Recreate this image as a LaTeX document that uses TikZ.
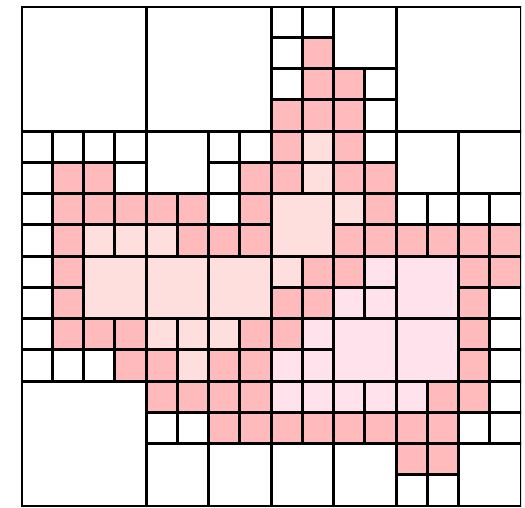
\documentclass[tikz,border=0pt]{standalone}
\definecolor{cw}{RGB}{255,255,255}
\definecolor{cp}{RGB}{255,187,187}
\definecolor{cl}{RGB}{255,222,222}
\definecolor{cv}{RGB}{255,226,236}
\tikzset{cellline/.style={draw=black, line width=3pt}}
\begin{document}
\begin{tikzpicture}
\useasboundingbox (0pt,0pt) rectangle (525pt,-507pt);
\fill[white] (0pt,0pt) rectangle (525pt,-507pt);
\begin{scope}[shift={(21pt,-6pt)}, x=31.25pt, y=-31.25pt]
\def\cells{0/0/4/cw, 4/0/4/cw, 12/0/4/cw, 0/12/4/cw,
8/0/1/cw, 9/0/1/cw, 8/1/1/cw, 9/1/1/cp, 10/0/2/cw, 8/2/1/cw, 9/2/1/cp, 8/3/1/cp, 9/3/1/cp, 10/2/1/cp, 11/2/1/cw, 10/3/1/cp, 11/3/1/cw,
0/4/1/cw, 1/4/1/cw, 2/4/1/cw, 3/4/1/cw, 0/5/1/cw, 1/5/1/cp, 2/5/1/cp, 3/5/1/cw, 0/6/1/cw, 1/6/1/cp, 2/6/1/cp, 3/6/1/cp, 0/7/1/cw, 1/7/1/cp, 2/7/1/cl, 3/7/1/cl,
4/4/2/cw, 6/4/1/cw, 7/4/1/cw, 6/5/1/cw, 7/5/1/cp, 4/6/1/cp, 5/6/1/cp, 4/7/1/cl, 5/7/1/cp, 6/6/1/cw, 7/6/1/cp, 6/7/1/cp, 7/7/1/cp,
8/4/1/cp, 9/4/1/cl, 8/5/1/cp, 9/5/1/cl, 10/4/1/cp, 11/4/1/cw, 10/5/1/cp, 11/5/1/cp, 8/6/2/cl, 10/6/1/cl, 11/6/1/cp, 10/7/1/cp, 11/7/1/cp,
12/4/2/cw, 14/4/2/cw, 12/6/1/cw, 13/6/1/cw, 12/7/1/cp, 13/7/1/cp, 14/6/1/cw, 15/6/1/cw, 14/7/1/cp, 15/7/1/cp,
0/8/1/cw, 1/8/1/cp, 0/9/1/cw, 1/9/1/cp, 2/8/2/cl, 0/10/1/cw, 1/10/1/cp, 0/11/1/cw, 1/11/1/cw, 2/10/1/cp, 3/10/1/cp, 2/11/1/cw, 3/11/1/cp,
4/8/2/cl, 6/8/2/cl, 4/10/1/cl, 5/10/1/cl, 4/11/1/cp, 5/11/1/cl, 6/10/1/cl, 7/10/1/cp, 6/11/1/cp, 7/11/1/cp,
8/8/1/cl, 9/8/1/cp, 8/9/1/cp, 9/9/1/cp, 10/8/1/cp, 11/8/1/cv, 10/9/1/cv, 11/9/1/cv, 8/10/1/cp, 9/10/1/cv, 8/11/1/cv, 9/11/1/cv, 10/10/2/cv,
12/8/2/cv, 14/8/1/cp, 15/8/1/cp, 14/9/1/cp, 15/9/1/cw, 12/10/2/cv, 14/10/1/cp, 15/10/1/cw, 14/11/1/cp, 15/11/1/cw,
4/12/1/cp, 5/12/1/cp, 4/13/1/cw, 5/13/1/cw, 6/12/1/cp, 7/12/1/cp, 6/13/1/cp, 7/13/1/cp, 4/14/2/cw, 6/14/2/cw,
8/12/1/cv, 9/12/1/cv, 8/13/1/cp, 9/13/1/cp, 10/12/1/cv, 11/12/1/cv, 10/13/1/cp, 11/13/1/cp, 8/14/2/cw, 10/14/2/cw,
12/12/1/cv, 13/12/1/cp, 12/13/1/cp, 13/13/1/cp, 14/12/1/cp, 15/12/1/cw, 14/13/1/cw, 15/13/1/cw, 12/14/1/cp, 13/14/1/cp, 12/15/1/cw, 13/15/1/cw, 14/14/2/cw}
\clip (0,0) rectangle (16,16);
\foreach \c/\r/\s/\f in \cells {\fill[\f] (\c,\r) rectangle ++(\s,\s);}
\foreach \c/\r/\s/\f in \cells {\draw[cellline] (\c,\r) rectangle ++(\s,\s);}
\end{scope}
\end{tikzpicture}
\end{document}
